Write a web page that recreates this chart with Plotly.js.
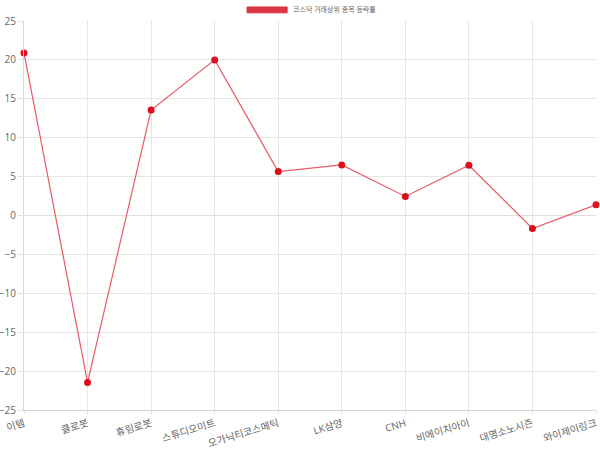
<!DOCTYPE html>
<html><head><meta charset="utf-8">
<script src="https://cdn.plot.ly/plotly-3.0.1.min.js"></script>
<style>html,body{margin:0;padding:0;background:#fff}#c{width:600px;height:450px}</style>
</head><body><div id="c"></div>
<script>
const categories = ["이템","클로봇","휴림로봇","스튜디오미트","오가닉티코스메틱","LK삼양","CNH","비에이치아이","대명소노시즌","와이제이링크"];
const values = [20.9, -21.45, 13.55, 20.0, 5.65, 6.5, 2.45, 6.45, -1.67, 1.37];
const seriesName = "코스닥 거래상위 종목 등락률";
const yTicks = [-25,-20,-15,-10,-5,0,5,10,15,20,25];

const font = "'Open Sans', 'Noto Sans CJK KR', sans-serif";
const trace = {
  x: categories, y: values, type: 'scatter', mode: 'lines+markers', name: seriesName,
  line: {color: 'rgba(228,60,75,0.85)', width: 1.2},
  marker: {color: '#dc0f1e', size: 7},
  showlegend: false, cliponaxis: false
};
const layout = {
  width: 600, height: 450,
  margin: {l: 24, r: 4, t: 21, b: 40},
  paper_bgcolor: '#fff', plot_bgcolor: '#fff',
  font: {family: font, color: '#666', size: 11},
  xaxis: {
    type: 'category', range: [0, categories.length - 1],
    showgrid: true, gridcolor: '#e6e6e6', gridwidth: 1,
    showline: true, linecolor: '#d5d5d5', linewidth: 1,
    ticks: 'outside', ticklen: 3, tickcolor: '#e0e0e0',
    tickangle: -17, tickfont: {size: 10, color: '#666'}, zeroline: false,
    automargin: false
  },
  yaxis: {
    range: [-25, 25], tickvals: yTicks,
    showgrid: true, gridcolor: '#e6e6e6', gridwidth: 1,
    showline: true, linecolor: '#d5d5d5', linewidth: 1,
    ticks: 'outside', ticklen: 5, tickcolor: '#e0e0e0',
    tickfont: {size: 10, color: '#666'}, zeroline: true, zerolinecolor: '#e0e0e0', zerolinewidth: 1,
    automargin: false
  },
  shapes: [{type: 'rect', xref: 'paper', yref: 'paper', x0: 0.390, x1: 0.460, y0: 1.021, y1: 1.036,
    fillcolor: '#dc3545', line: {color: '#d9303f', width: 1}}],
  annotations: [{xref: 'paper', yref: 'paper', x: 0.467, y: 1.0285, xanchor: 'left', yanchor: 'middle',
    text: seriesName, showarrow: false, font: {size: 7, color: '#666', family: font}}]
};
Plotly.newPlot('c', [trace], layout, {displayModeBar: false, staticPlot: true});
</script></body></html>
